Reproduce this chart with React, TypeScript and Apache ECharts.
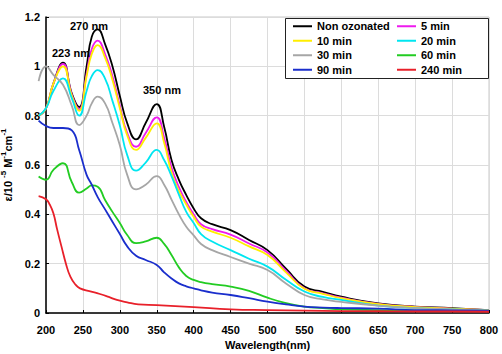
import React, { useEffect, useRef } from "react";
import * as echarts from "echarts";

const wavelengths = [190, 200, 210, 223, 235, 245, 255, 262, 270, 280, 290, 300, 310, 322, 335, 350, 360, 370, 380, 390, 400, 410, 425, 450, 475, 500, 525, 550, 575, 600, 650, 700, 750, 800];

const nonOzonated = [0.80, 0.83, 0.93, 1.015, 0.89, 0.835, 1.00, 1.12, 1.15, 1.09, 1.00, 0.88, 0.77, 0.704, 0.77, 0.847, 0.755, 0.62, 0.54, 0.478, 0.424, 0.384, 0.36, 0.336, 0.296, 0.255, 0.18, 0.107, 0.086, 0.066, 0.039, 0.026, 0.02, 0.012];
const min5 = [0.80, 0.83, 0.93, 1.01, 0.885, 0.826, 0.97, 1.07, 1.104, 1.05, 0.96, 0.84, 0.73, 0.674, 0.73, 0.793, 0.71, 0.59, 0.51, 0.45, 0.40, 0.36, 0.34, 0.318, 0.282, 0.245, 0.172, 0.10, 0.08, 0.062, 0.037, 0.025, 0.018, 0.012];
const min10 = [0.80, 0.83, 0.93, 1.0, 0.88, 0.82, 0.96, 1.05, 1.086, 1.035, 0.945, 0.83, 0.72, 0.661, 0.71, 0.769, 0.69, 0.57, 0.495, 0.44, 0.39, 0.35, 0.33, 0.305, 0.27, 0.235, 0.165, 0.098, 0.078, 0.06, 0.036, 0.024, 0.018, 0.012];
const min20 = [0.80, 0.83, 0.90, 0.951, 0.87, 0.80, 0.90, 0.96, 0.985, 0.95, 0.86, 0.76, 0.64, 0.577, 0.61, 0.661, 0.62, 0.555, 0.48, 0.41, 0.365, 0.32, 0.29, 0.255, 0.22, 0.188, 0.135, 0.087, 0.065, 0.053, 0.03, 0.02, 0.015, 0.01];
const min30 = [0.94, 1.0, 0.965, 0.925, 0.84, 0.762, 0.80, 0.85, 0.877, 0.85, 0.77, 0.68, 0.56, 0.501, 0.52, 0.555, 0.52, 0.46, 0.40, 0.35, 0.315, 0.28, 0.255, 0.227, 0.20, 0.174, 0.12, 0.073, 0.055, 0.045, 0.03, 0.02, 0.015, 0.01];
const min60 = [0.553, 0.54, 0.58, 0.607, 0.53, 0.488, 0.505, 0.517, 0.512, 0.458, 0.41, 0.365, 0.316, 0.283, 0.29, 0.305, 0.28, 0.235, 0.185, 0.15, 0.134, 0.125, 0.117, 0.107, 0.09, 0.062, 0.04, 0.026, 0.02, 0.015, 0.012, 0.01, 0.008, 0.008];
const min90 = [0.78, 0.758, 0.75, 0.75, 0.74, 0.66, 0.56, 0.52, 0.47, 0.42, 0.37, 0.32, 0.27, 0.232, 0.215, 0.195, 0.165, 0.14, 0.12, 0.108, 0.10, 0.092, 0.083, 0.073, 0.06, 0.046, 0.035, 0.026, 0.022, 0.02, 0.018, 0.012, 0.011, 0.01];

const redWavelengths = [190, 200, 205, 210, 215, 221, 227, 233, 240, 246, 260, 273, 285, 296, 310, 325, 350, 400, 450, 500, 550, 600, 650, 700, 750, 800];
const min240 = [0.474, 0.461, 0.44, 0.404, 0.34, 0.269, 0.2, 0.147, 0.115, 0.10, 0.088, 0.077, 0.065, 0.053, 0.043, 0.035, 0.032, 0.024, 0.015, 0.012, 0.01, 0.008, 0.007, 0.006, 0.006, 0.005];

const seriesNames = ["Non ozonated", "5 min", "10 min", "20 min", "30 min", "60 min", "90 min", "240 min"];
const seriesColors = ["#000000", "#ee1aee", "#ffee00", "#00e6f0", "#a6a6a6", "#22cc22", "#1a2ecc", "#e8202a"];
const seriesValues = [nonOzonated, min5, min10, min20, min30, min60, min90, min240];
const seriesX = [wavelengths, wavelengths, wavelengths, wavelengths, wavelengths, wavelengths, wavelengths, redWavelengths];

const legendLeftNames = ["Non ozonated", "10 min", "30 min", "90 min"];
const legendRightNames = ["5 min", "20 min", "60 min", "240 min"];

const peakLabels = [
  { text: "270 nm", x: 70, y: 26 },
  { text: "223 nm", x: 52, y: 53 },
  { text: "350 nm", x: 143, y: 90 },
];

const X_MIN = 200;
const X_MAX = 800;
const DATA_X_MIN = 189;
const FONT = "Liberation Sans";

export default function App() {
  const ref = useRef<HTMLDivElement>(null);
  useEffect(() => {
    if (!ref.current) return;
    const chart = echarts.init(ref.current, undefined, { renderer: "svg" });
    const gridLeft = 46;
    const gridRight = 13;
    const plotWidth = 502 - gridLeft - gridRight;
    const dataGridLeft = gridLeft - ((X_MIN - DATA_X_MIN) * plotWidth) / (X_MAX - X_MIN);
    const legendText = { fontFamily: FONT, fontWeight: "bold", fontSize: 11, color: "#000", lineHeight: 14.5 };
    const legendCommon = {
      orient: "vertical",
      icon: "rect",
      itemWidth: 19,
      itemHeight: 2,
      itemGap: 0,
      itemTextGap: 2,
      padding: 0,
      top: 19,
      z: 10,
      selectedMode: false,
      textStyle: legendText,
    };
    chart.setOption({
      animation: false,
      backgroundColor: "#ffffff",
      textStyle: { fontFamily: FONT },
      grid: [
        { left: gridLeft, right: gridRight, top: 17, bottom: 41, show: true, borderColor: "#c8c8c8", borderWidth: 1, containLabel: false, outerBoundsMode: "none" },
        { left: dataGridLeft, right: gridRight, top: 17, bottom: 41, show: false, containLabel: false, outerBoundsMode: "none" },
      ],
      legend: [
        { ...legendCommon, left: 293, data: legendLeftNames },
        { ...legendCommon, left: 397, data: legendRightNames },
      ],
      xAxis: [
        {
          type: "value",
          gridIndex: 0,
          min: X_MIN,
          max: X_MAX,
          interval: 50,
          name: "Wavelength(nm)",
          nameLocation: "middle",
          nameGap: 25,
          nameTextStyle: { fontFamily: FONT, fontWeight: "bold", fontSize: 11, color: "#000" },
          axisLine: { onZero: false, lineStyle: { color: "#000", width: 1.5 } },
          axisTick: { show: true, inside: true, length: 3, lineStyle: { color: "#000" } },
          axisLabel: { fontFamily: FONT, fontWeight: "bold", fontSize: 11, color: "#000", margin: 11 },
          splitLine: { show: true, lineStyle: { color: "#dcdcdc", width: 1 } },
        },
        {
          type: "value",
          gridIndex: 1,
          min: DATA_X_MIN,
          max: X_MAX,
          show: false,
        },
      ],
      yAxis: [
        {
          type: "value",
          gridIndex: 0,
          min: 0,
          max: 1.2,
          interval: 0.2,
          name: "{a|ε/10 }{s|-5}{a| M}{s|-1}{a|cm}{s|-1}",
          nameLocation: "middle",
          nameGap: 24,
          nameTextStyle: {
            color: "#000",
            rich: {
              a: { fontFamily: FONT, fontWeight: "bold", fontSize: 11, color: "#000", lineHeight: 14, verticalAlign: "bottom" },
              s: { fontFamily: FONT, fontWeight: "bold", fontSize: 8, color: "#000", lineHeight: 14, verticalAlign: "top" },
            },
          },
          axisLine: { show: true, lineStyle: { color: "#000", width: 1.5 } },
          axisTick: { show: true, inside: true, length: 3, lineStyle: { color: "#000" } },
          axisLabel: { fontFamily: FONT, fontWeight: "bold", fontSize: 11, color: "#000", margin: 6 },
          splitLine: { show: true, lineStyle: { color: "#dcdcdc", width: 1 } },
        },
        {
          type: "value",
          gridIndex: 1,
          min: 0,
          max: 1.2,
          show: false,
        },
      ],
      graphic: [
        {
          type: "rect",
          z: 3,
          shape: { x: 285.5, y: 18.5, width: 203, height: 60 },
          style: { fill: "#ffffff", stroke: "#222222", lineWidth: 1 },
        },
        ...peakLabels.map((p) => ({
          type: "text",
          x: p.x,
          y: p.y,
          z: 5,
          style: { text: p.text, font: `bold 11px "${FONT}"`, fill: "#000", verticalAlign: "middle" },
        })),
      ],
      series: seriesNames.map((name, i) => ({
        name,
        type: "line",
        xAxisIndex: 1,
        yAxisIndex: 1,
        data: seriesX[i].map((x, j) => [x, seriesValues[i][j]]),
        showSymbol: false,
        symbol: "none",
        smooth: 0.5,
        color: seriesColors[i],
        lineStyle: { color: seriesColors[i], width: 1.8 },
        z: 2,
      })),
    });
    return () => chart.dispose();
  }, []);
  return <div ref={ref} style={{ width: 502, height: 354, position: "absolute", left: 0, top: 0 }} />;
}
